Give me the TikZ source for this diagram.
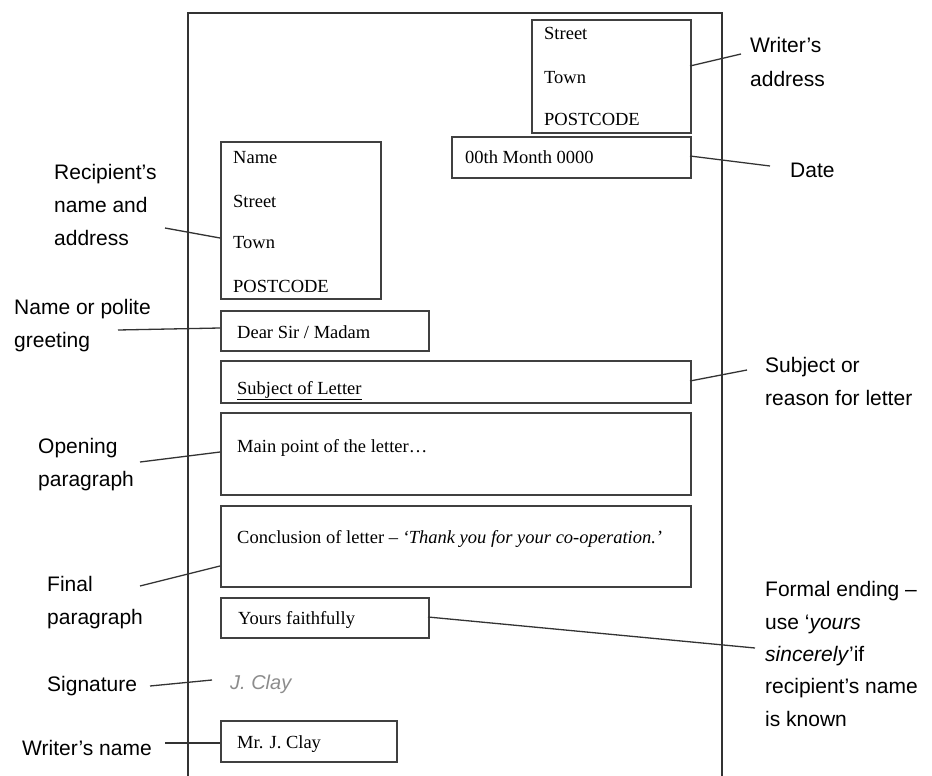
\documentclass[tikz,border=0pt]{standalone}
\usepackage{fontspec}
\setmainfont{Liberation Serif}
\setsansfont{Liberation Sans}
\begin{document}
\begin{tikzpicture}[x=1pt,y=-1pt,
  box/.style={draw=black!75, line width=1.6pt, anchor=north west, inner sep=0pt},
  btxt/.style={font=\fontsize{18.5}{20}\selectfont, anchor=base west, inner sep=0pt},
  lab/.style={font=\sffamily\fontsize{21}{33}\selectfont, anchor=base west, align=left, inner sep=0pt},
  conn/.style={draw=black!80, line width=1.3pt},
  page/.style={draw=black!80, line width=1.4pt}]
\useasboundingbox (0,0) rectangle (932,776);
% page
\coordinate (pbl) at (188,790);
\coordinate (ptl) at (188,13);
\coordinate (ptr) at (722,13);
\coordinate (pbr) at (722,790);
\draw[page] (pbl) -- (ptl) -- (ptr) -- (pbr);
% boxes
\node[box, minimum width=159, minimum height=113] (wa) at (531,19) {};
\node[box, minimum width=239, minimum height=41] (date) at (451,136) {};
\node[box, minimum width=160, minimum height=157] (rec) at (220,141) {};
\node[box, minimum width=208, minimum height=40] (dear) at (220,310) {};
\node[box, minimum width=470, minimum height=42] (subj) at (220,360) {};
\node[box, minimum width=470, minimum height=82] (mainp) at (220,412) {};
\node[box, minimum width=470, minimum height=81] (conc) at (220,505) {};
\node[box, minimum width=208, minimum height=40] (yours) at (220,597) {};
\node[box, minimum width=176, minimum height=41] (mr) at (220,720) {};
% box texts
\node[btxt] (wa1) at (544,40) {Street};
\node[btxt] (wa2) at (544,84) {Town};
\node[btxt] (wa3) at (544,125) {POSTCODE};
\node[btxt] (date1) at (465,163) {00th Month 0000};
\node[btxt] (rec1) at (233,163) {Name};
\node[btxt] (rec2) at (233,207) {Street};
\node[btxt] (rec3) at (233,248) {Town};
\node[btxt] (rec4) at (233,292) {POSTCODE};
\node[btxt] (dear1) at (237,338) {Dear Sir / Madam};
\node[btxt] (subj1) at (237,394) {\underline{Subject of Letter}};
\node[btxt] (main1) at (237,452) {Main point of the letter\ldots};
\node[btxt] (conc1) at (237,543) {Conclusion of letter -- \textit{`Thank you for your co-operation.'}};
\node[btxt] (yours1) at (238,624) {Yours faithfully};
\node[btxt, font=\sffamily\itshape\fontsize{20}{20}\selectfont, text=black!45] (sig) at (230,689) {J. Clay};
\node[btxt] (mr1) at (237,748) {Mr. J. Clay};
% labels left (base anchor = last line baseline)
\node[lab] (lrec) at (54,245) {Recipient's\\name and\\address};
\node[lab] (lgreet) at (14,347) {Name or polite\\greeting};
\node[lab] (lopen) at (38,486) {Opening\\paragraph};
\node[lab] (lfinal) at (47,624) {Final\\paragraph};
\node[lab] (lsig) at (47,691) {Signature};
\node[lab] (lwn) at (22,755) {Writer's name};
% labels right
\node[lab] (lwa) at (750,86) {Writer's\\address};
\node[lab] (ldate) at (790,177) {Date};
\node[lab] (lsubj) at (765,405) {Subject or\\reason for letter};
\node[lab, font=\sffamily\fontsize{21}{32.3}\selectfont] (lform) at (765,726) {Formal ending --\\use `\textit{yours}\\\textit{sincerely}'if\\recipient's name\\is known};
% connector ends
\coordinate (a1) at (165,228); \coordinate (b1) at (220,238);
\coordinate (a2) at (118,330); \coordinate (b2) at (220,328);
\coordinate (a3) at (140,462); \coordinate (b3) at (220,452);
\coordinate (a4) at (140,586); \coordinate (b4) at (220,566);
\coordinate (a5) at (150,686); \coordinate (b5) at (212,680);
\coordinate (a6) at (165,743); \coordinate (b6) at (220,743);
\coordinate (a7) at (741,54); \coordinate (b7) at (690,66);
\coordinate (a8) at (770,166); \coordinate (b8) at (690,156);
\coordinate (a9) at (747,370); \coordinate (b9) at (690,381);
\coordinate (a10) at (755,648); \coordinate (b10) at (428,617);
\draw[conn] (a1) -- (b1);
\draw[conn] (a2) -- (b2);
\draw[conn] (a3) -- (b3);
\draw[conn] (a4) -- (b4);
\draw[conn] (a5) -- (b5);
\draw[conn] (a6) -- (b6);
\draw[conn] (a7) -- (b7);
\draw[conn] (a8) -- (b8);
\draw[conn] (a9) -- (b9);
\draw[conn] (a10) -- (b10);
\end{tikzpicture}
\end{document}
